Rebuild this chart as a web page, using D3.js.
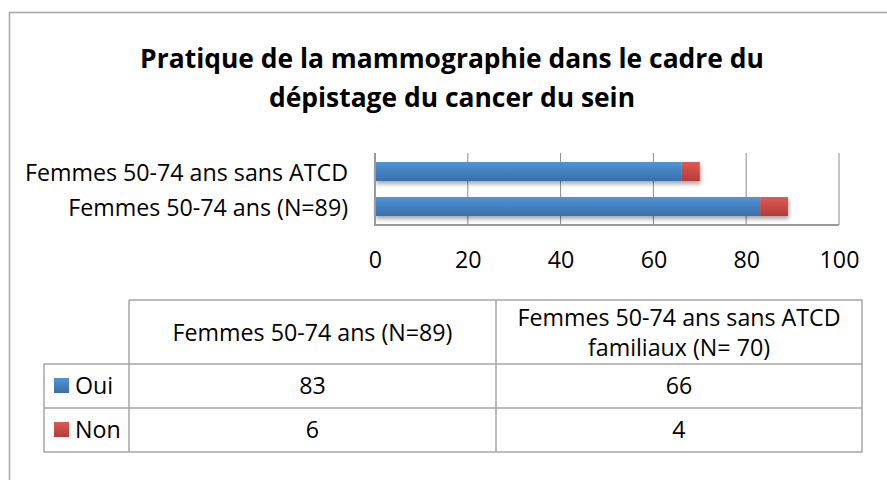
<!DOCTYPE html>
<html>
<head>
<meta charset="utf-8">
<script src="https://cdn.jsdelivr.net/npm/d3@7"></script>
<style>
  html, body { margin: 0; padding: 0; background: #fff; }
  svg { display: block; font-family: 'Open Sans', sans-serif; }
</style>
</head>
<body>
<div class="svg-container"></div>
<script>
const titleLines = ['Pratique de la mammographie dans le cadre du', 'dépistage du cancer du sein']
const categories = ['Femmes 50-74 ans (N=89)', 'Femmes 50-74 ans sans ATCD']
const tableHeaders = [
  ['Femmes 50-74 ans (N=89)'],
  ['Femmes 50-74 ans sans ATCD', 'familiaux (N= 70)']
]
const seriesNames = ['Oui', 'Non']
const oui = [83, 66]
const non = [6, 4]
const xTicks = [0, 20, 40, 60, 80, 100]

const width = 887
const height = 480
const colors = { Oui: ['#4f95da', '#3a6ea8'], Non: ['#df5a55', '#b13c39'] }

const svg = d3
  .select('.svg-container')
  .append('svg')
  .attr('width', width)
  .attr('height', height)

// font size that makes a string take a given width
function fitSize(str, targetWidth, weight) {
  const t = svg.append('text').style('font-size', '100px').style('font-weight', weight).text(str)
  const w = t.node().getComputedTextLength()
  t.remove()
  return 100 * targetWidth / w
}
const titleSize = fitSize(titleLines[0], 624, 'bold')
const textSize = fitSize(categories[0], 280, 'normal')

const defs = svg.append('defs')
seriesNames.forEach((name) => {
  const grad = defs
    .append('linearGradient')
    .attr('id', 'grad-' + name)
    .attr('x1', 0).attr('y1', 0).attr('x2', 0).attr('y2', 1)
  grad.append('stop').attr('offset', '0%').attr('stop-color', colors[name][0])
  grad.append('stop').attr('offset', '100%').attr('stop-color', colors[name][1])
})
defs
  .append('filter')
  .attr('id', 'shadow')
  .attr('x', '-5%').attr('y', '-20%').attr('width', '110%').attr('height', '160%')
  .append('feDropShadow')
  .attr('dx', 1).attr('dy', 3).attr('stdDeviation', 2)
  .attr('flood-color', '#000').attr('flood-opacity', 0.35)

// outer frame
svg
  .append('rect')
  .attr('x', 9.5)
  .attr('y', 12.5)
  .attr('width', 900)
  .attr('height', 500)
  .attr('fill', 'none')
  .attr('stroke', '#a6a6a6')
  .attr('stroke-width', 1.5)

// title
svg
  .append('text')
  .attr('text-anchor', 'middle')
  .style('font-size', titleSize + 'px')
  .style('font-weight', 'bold')
  .selectAll('tspan')
  .data(titleLines)
  .join('tspan')
  .attr('x', 452)
  .attr('y', (d, i) => 68 + i * 39)
  .text((d) => d)

// chart
const xScale = d3.scaleLinear([0, 100], [375, 839])
const yScale = d3
  .scaleBand(categories.slice().reverse(), [153, 225])
  .paddingInner(0.457)
  .paddingOuter(0.257)

svg
  .append('g')
  .selectAll('line')
  .data(xTicks.slice(1))
  .join('line')
  .attr('x1', (d) => xScale(d))
  .attr('x2', (d) => xScale(d))
  .attr('y1', 153)
  .attr('y2', 225)
  .attr('stroke', '#8c8c8c')
  .attr('stroke-width', 1)

const stacked = categories.map((c, i) => ({ cat: c, Oui: oui[i], Non: non[i] }))
const stack = d3.stack().keys(seriesNames)(stacked)

svg
  .append('g')
  .attr('filter', 'url(#shadow)')
  .selectAll('g')
  .data(stack)
  .join('g')
  .attr('fill', (s) => `url(#grad-${s.key})`)
  .selectAll('rect')
  .data((s) => s)
  .join('rect')
  .attr('x', (d) => xScale(d[0]))
  .attr('width', (d) => xScale(d[1]) - xScale(d[0]))
  .attr('y', (d) => yScale(d.data.cat))
  .attr('height', yScale.bandwidth())

svg
  .append('path')
  .attr('d', `M${xScale(0)},153V225H${xScale(100)}`)
  .attr('fill', 'none')
  .attr('stroke', '#9a9a9a')
  .attr('stroke-width', 2)

const xAxis = svg
  .append('g')
  .attr('transform', 'translate(0, 260)')
  .call(d3.axisBottom(xScale).tickValues(xTicks).tickSize(0).tickPadding(0))
xAxis.select('.domain').remove()
xAxis
  .selectAll('text')
  .attr('dy', '0.35em')
  .style('font-size', textSize + 'px')
  .style('font-family', "'Open Sans', sans-serif")
  .attr('fill', '#000')

const yAxis = svg
  .append('g')
  .attr('transform', 'translate(348, 2)')
  .call(d3.axisLeft(yScale).tickSize(0).tickPadding(0))
yAxis.select('.domain').remove()
yAxis
  .selectAll('text')
  .style('font-size', textSize + 'px')
  .style('font-family', "'Open Sans', sans-serif")
  .attr('fill', '#000')

// data table
const colX = [44, 129, 496, 862]
const rowY = [300, 364, 408, 452]
const table = svg.append('g').attr('stroke', '#a6a6a6').attr('stroke-width', 1.5)

// header row has no top-left cell
table.append('path')
  .attr('fill', 'none')
  .attr('d', `M${colX[1]},${rowY[0]}H${colX[3]}V${rowY[3]}H${colX[0]}V${rowY[1]}H${colX[3]}` +
    `M${colX[0]},${rowY[2]}H${colX[3]}` +
    `M${colX[1]},${rowY[0]}V${rowY[3]}M${colX[2]},${rowY[0]}V${rowY[3]}`)

tableHeaders.forEach((lines, i) => {
  const cx = (colX[i + 1] + colX[i + 2]) / 2
  const cy = (rowY[0] + rowY[1]) / 2 + 1
  const lineH = 30
  svg
    .append('text')
    .attr('text-anchor', 'middle')
    .style('font-size', textSize + 'px')
    .selectAll('tspan')
    .data(lines)
    .join('tspan')
    .attr('x', cx)
    .attr('y', (d, j) => cy + (j - (lines.length - 1) / 2) * lineH)
    .attr('dy', '0.35em')
    .text((d) => d)
})

const rowValues = [oui, non]
seriesNames.forEach((name, r) => {
  const cy = (rowY[r + 1] + rowY[r + 2]) / 2
  svg
    .append('rect')
    .attr('x', 54)
    .attr('y', cy - 8)
    .attr('width', 15)
    .attr('height', 15)
    .attr('fill', `url(#grad-${name})`)
  svg
    .append('text')
    .attr('x', 75)
    .attr('y', cy)
    .attr('dy', '0.35em')
    .style('font-size', textSize + 'px')
    .text(name)
  rowValues[r].forEach((v, c) => {
    svg
      .append('text')
      .attr('x', (colX[c + 1] + colX[c + 2]) / 2)
      .attr('y', cy)
      .attr('dy', '0.35em')
      .attr('text-anchor', 'middle')
      .style('font-size', textSize + 'px')
      .text(v)
  })
})
</script>
</body>
</html>
